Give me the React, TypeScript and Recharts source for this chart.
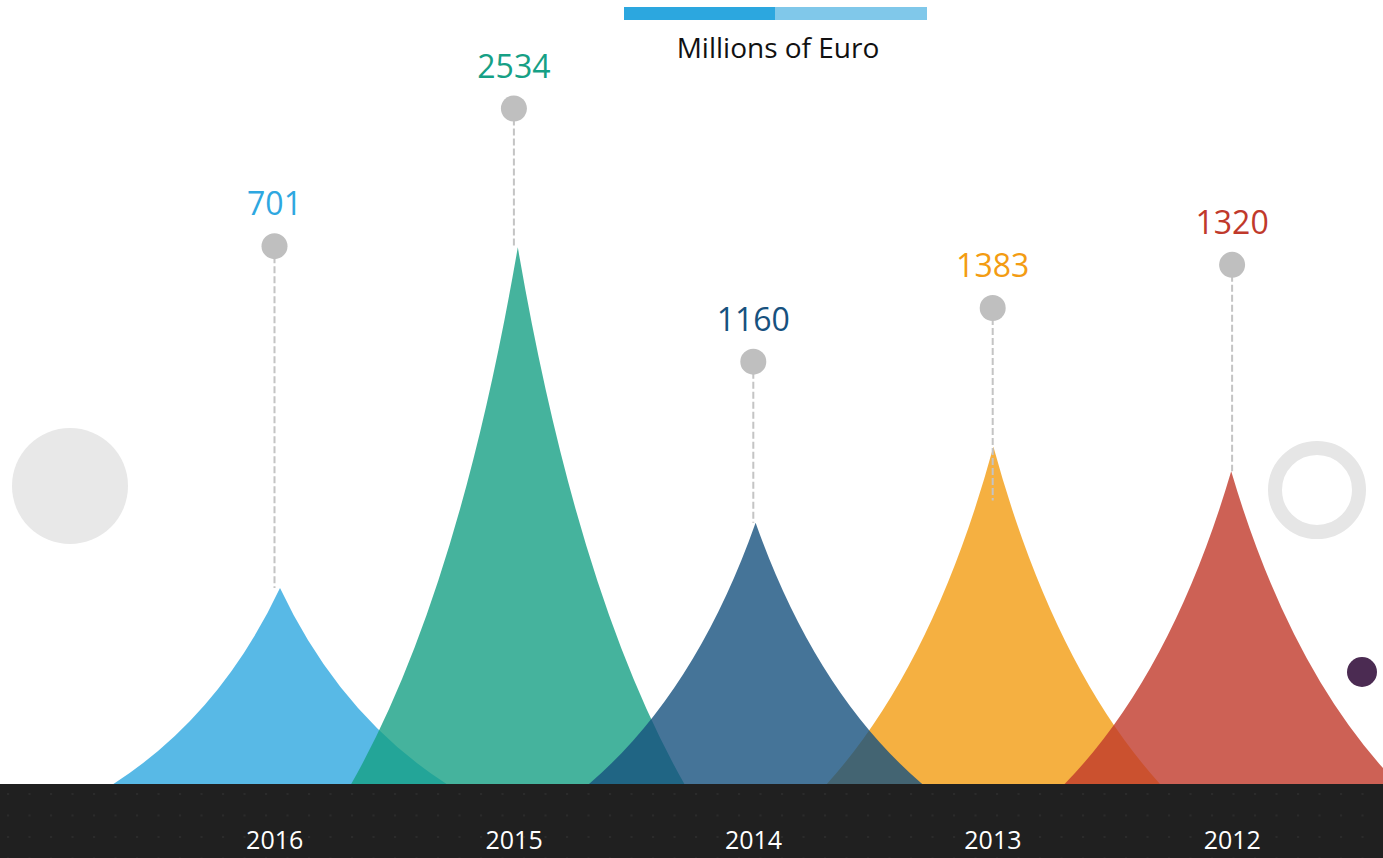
import { ComposedChart, Bar, XAxis, YAxis } from "recharts";

const years = ["2016", "2015", "2014", "2013", "2012"];
const amounts = [701, 2534, 1160, 1383, 1320];
// spike heights and pin positions (same y scale)
const spikeHeights = [840, 2300, 1120, 1445, 1340];
const pinTops = [2305, 2895, 1810, 2040, 2225];
const pinBottoms = [840, 2300, 1120, 1215, 1340];
// 2013 sits behind its neighbours
const behind = [false, false, false, true, false];

const COLORS = ["#2EA7E0", "#16A085", "#17517E", "#F39C12", "#C0392B"];
const FONT = "'Open Sans', 'Noto Sans', sans-serif";

const data = years.map((year, i) => ({
  year,
  amount: amounts[i],
  back: behind[i] ? spikeHeights[i] : null,
  front: behind[i] ? null : spikeHeights[i],
  pin: [pinBottoms[i], pinTops[i]],
}));

// concave spike: each side is a quadratic curve from the base corner to the tip
const Spike = (props: any) => {
  const { x, y, width, height, index } = props;
  if (!height || height <= 0) return null;
  const cx = x + width / 2;
  const half = width * 0.7;
  const base = y + height;
  const X = (w: number) => cx + w * half;
  const Y = (h: number) => base - h * height;
  const d =
    `M${X(-1)},${base} L${X(1)},${base} ` +
    `Q${X(0.36)},${Y(0.35)} ${cx},${y} ` +
    `Q${X(-0.36)},${Y(0.35)} ${X(-1)},${base} Z`;
  return <path d={d} fill={COLORS[index]} fillOpacity={0.8} />;
};

const Pin = (props: any) => {
  const { x, y, width, height, index, payload } = props;
  const cx = x + width / 2;
  return (
    <g>
      <line
        x1={cx}
        y1={y}
        x2={cx}
        y2={y + height}
        stroke="#C4C4C4"
        strokeWidth={2}
        strokeDasharray="7 3"
      />
      <circle cx={cx} cy={y} r={13} fill="#BFBFBF" />
      <text
        x={cx}
        y={y - 31}
        textAnchor="middle"
        fill={COLORS[index]}
        fontSize={32}
        fontFamily={FONT}
      >
        {payload?.amount ?? amounts[index]}
      </text>
    </g>
  );
};

const YearTick = (props: any) => {
  const { x, payload, viewBox } = props;
  const top = viewBox && typeof viewBox.y === "number" ? viewBox.y : 784;
  return (
    <text
      x={x}
      y={top + 65}
      textAnchor="middle"
      fill="#FFFFFF"
      fontSize={25}
      fontFamily={FONT}
    >
      {payload.value}
    </text>
  );
};

const Backdrop = () => (
  <svg
    width={1383}
    height={858}
    style={{ position: "absolute", left: 0, top: 0 }}
  >
    <defs>
      <pattern
        id="dots"
        x={7}
        y={793}
        width={21.5}
        height={21.5}
        patternUnits="userSpaceOnUse"
      >
        <circle cx={1} cy={1} r={1} fill="#2E2E2E" />
      </pattern>
    </defs>
    <rect x={0} y={784} width={1383} height={74} fill="#202020" />
    <rect x={0} y={784} width={1383} height={74} fill="url(#dots)" />
    <circle cx={70} cy={486} r={58} fill="#E8E8E8" />
    <circle cx={1317} cy={490} r={42} fill="none" stroke="#E6E6E6" strokeWidth={14} />
    <circle cx={1362} cy={672} r={15} fill="#4B2B52" />
    <rect x={624} y={7} width={151} height={13} fill="#2CA7DF" />
    <rect x={775} y={7} width={152} height={13} fill="#80C8EA" />
    <text
      x={778}
      y={58}
      textAnchor="middle"
      fill="#111111"
      fontSize={28}
      fontFamily={FONT}
    >
      Millions of Euro
    </text>
  </svg>
);

export default function App() {
  return (
    <div style={{ position: "relative", width: 1383, height: 858, background: "#FFFFFF" }}>
      <style>{"body{margin:0}"}</style>
      <Backdrop />
      <div style={{ position: "absolute", left: 0, top: 0 }}>
        <ComposedChart
          width={1383}
          height={858}
          data={data}
          margin={{ top: 84, right: 31, bottom: 0, left: 155 }}
          barCategoryGap={0}
          barGap={0}
        >
          <XAxis
            xAxisId="spikes"
            dataKey="year"
            hide
            height={0}
            padding={{ left: 6, right: 2 }}
          />
          <XAxis
            xAxisId="years"
            dataKey="year"
            height={74}
            axisLine={false}
            tickLine={false}
            tickSize={0}
            tickMargin={0}
            interval={0}
            tick={<YearTick />}
          />
          <YAxis hide domain={[0, 3000]} />
          <Bar
            xAxisId="spikes"
            dataKey="back"
            stackId="spike"
            shape={<Spike />}
            isAnimationActive={false}
          />
          <Bar
            xAxisId="spikes"
            dataKey="front"
            stackId="spike"
            shape={<Spike />}
            isAnimationActive={false}
          />
          <Bar
            xAxisId="years"
            dataKey="pin"
            shape={<Pin />}
            isAnimationActive={false}
          />
        </ComposedChart>
      </div>
    </div>
  );
}
